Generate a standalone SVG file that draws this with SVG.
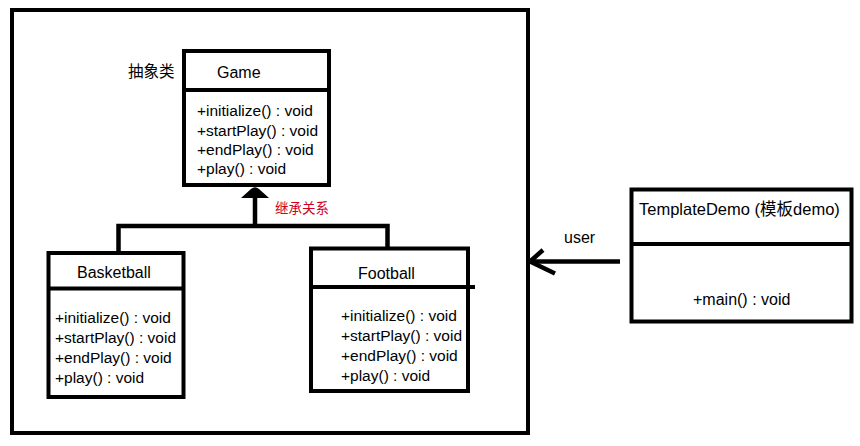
<svg xmlns="http://www.w3.org/2000/svg" width="860" height="446" viewBox="0 0 860 446">
  <style>
    .box { fill: #ffffff; stroke: #000000; stroke-width: 4; }
    .div { stroke: #000000; stroke-width: 4; fill: none; }
    .t { font-family: "Liberation Sans", Arial, "Noto Sans CJK SC", sans-serif; font-size: 16px; fill: #000000; }
    .m { font-size: 15.5px; }
    .cjk { font-family: "Noto Sans CJK SC", "Liberation Sans", sans-serif; }
    .red { font-family: "Noto Sans CJK SC", sans-serif; font-size: 13.5px; fill: #d0021b; }
    .conn { stroke: #000000; stroke-width: 4.5; fill: none; }
  </style>
  <rect x="0" y="0" width="860" height="446" fill="#ffffff"/>

  <g id="frame">
    <rect x="12" y="10" width="516" height="423" fill="none" stroke="#000000" stroke-width="4"/>
  </g>

  <g id="connectors">
    <path class="conn" d="M255,197 V226 M118.5,253 V226 H387.5 V248"/>
    <path d="M241,198 L251,189 Q255,185.5 259,189 L269,198 Z" fill="#000000"/>
    <text class="red" x="275" y="213">继承关系</text>
    <path class="conn" d="M620,261.5 H530"/>
    <path class="conn" d="M543,250 L530,261.5 L555,273.5" stroke-linecap="butt" stroke-linejoin="miter"/>
    <text class="t" x="564" y="243">user</text>
  </g>

  <g id="game">
    <rect class="box" x="184" y="51" width="145" height="134"/>
    <line class="div" x1="184" y1="90" x2="329" y2="90"/>
    <text class="t cjk" x="128" y="77" style="font-size:15.5px">抽象类</text>
    <text class="t" x="217" y="78">Game</text>
    <text class="t m" x="197" y="116">+initialize() : void</text>
    <text class="t m" x="197" y="135.5">+startPlay() : void</text>
    <text class="t m" x="197" y="155">+endPlay() : void</text>
    <text class="t m" x="197" y="174">+play() : void</text>
  </g>

  <g id="basketball">
    <rect class="box" x="48.5" y="253" width="135" height="144"/>
    <line class="div" x1="48.5" y1="288.5" x2="183.5" y2="288.5"/>
    <text class="t" x="77" y="278">Basketball</text>
    <text class="t m" x="55" y="323">+initialize() : void</text>
    <text class="t m" x="55" y="343">+startPlay() : void</text>
    <text class="t m" x="55" y="363">+endPlay() : void</text>
    <text class="t m" x="55" y="383">+play() : void</text>
  </g>

  <g id="football">
    <rect class="box" x="311" y="248.5" width="157" height="142.5"/>
    <line class="div" x1="311" y1="287" x2="475" y2="287"/>
    <text class="t" x="358" y="279">Football</text>
    <text class="t m" x="341" y="321">+initialize() : void</text>
    <text class="t m" x="341" y="341">+startPlay() : void</text>
    <text class="t m" x="341" y="361">+endPlay() : void</text>
    <text class="t m" x="341" y="380.5">+play() : void</text>
  </g>

  <g id="templatedemo">
    <rect class="box" x="631.5" y="189.5" width="220" height="132"/>
    <line class="div" x1="631.5" y1="244" x2="851.5" y2="244"/>
    <text class="t" x="639" y="215" style="font-size:16.5px">TemplateDemo (<tspan class="cjk">模板</tspan>demo)</text>
    <text class="t" x="693" y="305">+main() : void</text>
  </g>
</svg>
